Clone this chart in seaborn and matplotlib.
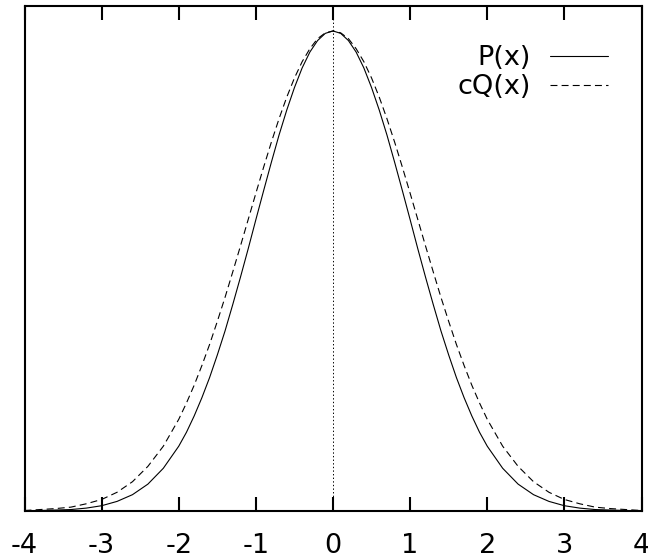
import numpy as np
import pandas as pd
import matplotlib
matplotlib.use("Agg")
import matplotlib.pyplot as plt
import seaborn as sns

# x positions and values
x_vals = [-4.0, -3.8, -3.6, -3.4, -3.2, -3.0, -2.8, -2.6, -2.4, -2.2, -2.0,
          -1.9, -1.8, -1.7, -1.6, -1.5, -1.4, -1.3, -1.2, -1.1, -1.0,
          -0.9, -0.8, -0.7, -0.6, -0.5, -0.4, -0.3, -0.2, -0.1, 0.0,
          0.1, 0.2, 0.3, 0.4, 0.5, 0.6, 0.7, 0.8, 0.9, 1.0,
          1.1, 1.2, 1.3, 1.4, 1.5, 1.6, 1.7, 1.8, 1.9, 2.0,
          2.2, 2.4, 2.6, 2.8, 3.0, 3.2, 3.4, 3.6, 3.8, 4.0]
p_vals = [0.000, 0.001, 0.002, 0.003, 0.006, 0.011, 0.020, 0.034, 0.056, 0.089, 0.135,
          0.164, 0.198, 0.236, 0.278, 0.325, 0.375, 0.430, 0.487, 0.546, 0.607,
          0.667, 0.726, 0.783, 0.835, 0.882, 0.923, 0.956, 0.980, 0.995, 1.000,
          0.995, 0.980, 0.956, 0.923, 0.882, 0.835, 0.783, 0.726, 0.667, 0.607,
          0.546, 0.487, 0.430, 0.375, 0.325, 0.278, 0.236, 0.198, 0.164, 0.135,
          0.089, 0.056, 0.034, 0.020, 0.011, 0.006, 0.003, 0.002, 0.001, 0.000]
cq_vals = [0.001, 0.003, 0.005, 0.008, 0.015, 0.024, 0.039, 0.061, 0.093, 0.135, 0.191,
           0.225, 0.262, 0.303, 0.347, 0.395, 0.445, 0.498, 0.552, 0.607, 0.662,
           0.716, 0.768, 0.817, 0.862, 0.902, 0.936, 0.963, 0.984, 0.996, 1.000,
           0.996, 0.984, 0.963, 0.936, 0.902, 0.862, 0.817, 0.768, 0.716, 0.662,
           0.607, 0.552, 0.498, 0.445, 0.395, 0.347, 0.303, 0.262, 0.225, 0.191,
           0.135, 0.093, 0.061, 0.039, 0.024, 0.015, 0.008, 0.005, 0.003, 0.001]
x_ticks = [-4, -3, -2, -1, 0, 1, 2, 3, 4]
series_labels = ["P(x)", "cQ(x)"]

sns.set_style("white")
plt.rcParams["font.family"] = ["DejaVu Sans"]
plt.rcParams["lines.scale_dashes"] = False
plt.rcParams["text.color"] = "black"

fig = plt.figure(figsize=(6.48, 5.55), dpi=100)
ax = fig.add_axes([24.5 / 648, 44 / 555, 617 / 648, 505 / 555])

df = pd.DataFrame({"x": x_vals, "P": p_vals, "cQ": cq_vals})

# vertical dotted line at x = 0
ax.axvline(0, color="black", lw=0.7, linestyle=(0, (1, 1.6)), zorder=1)

sns.lineplot(data=df, x="x", y="P", ax=ax, color="black", lw=0.8,
             label=series_labels[0], legend=False, sort=False)
sns.lineplot(data=df, x="x", y="cQ", ax=ax, color="black", lw=0.8,
             linestyle=(0, (5, 3)), label=series_labels[1], legend=False, sort=False)

ax.set_xlim(-4, 4)
ax.set_ylim(0, 1.052)
ax.set_xlabel("")
ax.set_ylabel("")
ax.set_xticks(x_ticks)
ax.set_xticklabels([str(t) for t in x_ticks])
ax.set_yticks([])

for s in ax.spines.values():
    s.set_visible(True)
    s.set_color("black")
    s.set_linewidth(1.5)

ax.tick_params(axis="x", which="both", direction="in", length=10, width=1.5,
               top=True, bottom=True, labelsize=19.5, pad=16, colors="black")

handles = ax.get_lines()[1:3]
leg = ax.legend(handles, series_labels, loc="upper right",
                bbox_to_anchor=(583.5 / 617, 1 - 39 / 505),
                frameon=False, markerfirst=False, fontsize=19.5,
                handlelength=2.14, handletextpad=0.72, labelspacing=0.11,
                borderpad=0, borderaxespad=0)
for t in leg.get_texts():
    t.set_color("black")

fig.savefig("out.png", dpi=100, facecolor="white")
